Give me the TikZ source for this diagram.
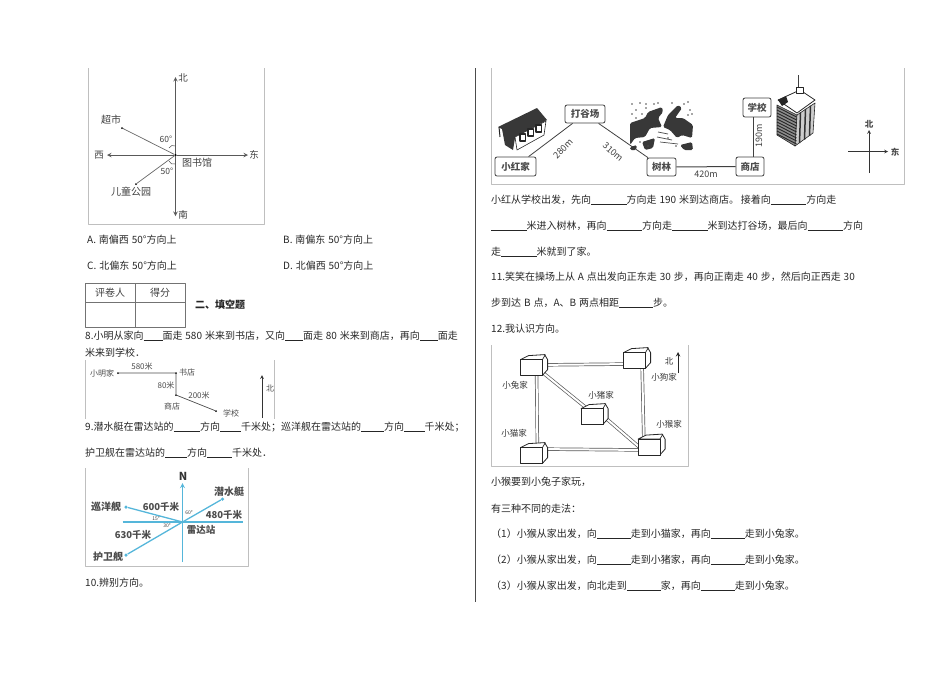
\documentclass[tikz,border=0pt]{standalone}
\usepackage{fontspec}
\setmainfont[WordSpace=1.3]{Noto Sans CJK SC}
\usetikzlibrary{positioning,backgrounds}
\newcommand{\blankline}[1]{\rule[-1.5pt]{#1pt}{0.6pt}}
\newcommand{\fs}[1]{\fontsize{#1}{#1}\selectfont}
\tikzset{
	txt/.style={anchor=base west, inner sep=0pt, text=black!85, font=\fs{10}},
	lab/.style={inner sep=0pt, text=black!75, font=\fs{10}},
	smalllab/.style={inner sep=0pt, text=black!70, font=\fs{8}},
	boldlab/.style={inner sep=0pt, text=black!70, font=\fs{10}\bfseries},
	framed/.style={draw=black!25, line width=0.8pt},
	dot/.style={circle, fill=black, inner sep=0pt, minimum size=2.5pt},
	axisline/.style={->, draw=black!65, line width=1pt},
	placebox/.style={draw=black!75, rounded corners=2pt, line width=0.8pt, fill=white, inner sep=0pt, font=\fs{9.5}\bfseries, text=black!70},
	housebox/.style={draw=black!85, line width=0.8pt, fill=white, inner sep=0pt, minimum width=21pt, minimum height=15pt},
	road/.style={double=white, draw=black!65, double distance=2pt, line width=0.7pt},
	radar/.style={draw=radarblue, line width=1.3pt},
	radardot/.style={circle, fill=radarblue, inner sep=0pt, minimum size=3.5pt},
	blotch/.style={fill=black!78, draw=none, rounded corners=1.5pt},
}
\definecolor{radarblue}{HTML}{55B6DA}
\begin{document}
\begin{tikzpicture}[x=1pt, y=-1pt, line join=round, >=stealth]
	\useasboundingbox (0,0) rectangle (950,673);
	\draw[black!70, line width=1pt] (475,68)--(475,602);
	%Hình 1
	\draw[framed] (88,68)--(88,224)--(264,224)--(264,68);
	\node[dot] (lib) at (175.5,155) {};
	\coordinate (n1) at (175.5,77);
	\coordinate (s1) at (175.5,216);
	\coordinate (w1) at (107,155);
	\coordinate (e1) at (248,155);
	\node[dot, minimum size=2pt] (shop) at (122,128) {};
	\node[dot, minimum size=2pt] (park) at (136,184) {};
	\draw[axisline] (lib)--(n1);
	\draw[axisline] (lib)--(s1);
	\draw[axisline] (lib)--(w1);
	\draw[axisline] (lib)--(e1);
	\draw[black!60, line width=0.7pt] (lib)--(shop) (lib)--(park);
	\draw[black!70, line width=0.5pt] (169,148) to[bend left=50] (175.5,146);
	\draw[black!70, line width=0.5pt] (169,161) to[bend right=50] (175.5,164);
	\node[lab, font=\fs{9.5}] (northa) at (183,78) {北};
	\node[lab, font=\fs{9.5}] (southa) at (183,215) {南};
	\node[lab, font=\fs{9.5}] (westa) at (99,155) {西};
	\node[lab, font=\fs{9.5}] (easta) at (254,155) {东};
	\node[lab] (shoplab) at (111,120) {超市};
	\node[lab] (parklab) at (131,192) {儿童公园};
	\node[lab] (liblab) at (197,163) {图书馆};
	\node[lab, font=\fs{8.5}] (anglea) at (166,139) {60°};
	\node[lab, font=\fs{8.5}] (angleb) at (167,171) {50°};
	%Các lựa chọn
	\node[txt] (optA) at (87,243) {A. 南偏西 50°方向上};
	\node[txt] (optB) at (283,243) {B. 南偏东 50°方向上};
	\node[txt] (optC) at (87,269) {C. 北偏东 50°方向上};
	\node[txt] (optD) at (283,269) {D. 北偏西 50°方向上};
	%Bảng điểm
	\draw[black!55, line width=1pt] (85,283) rectangle (185,327) (135,283)--(135,327) (85,302)--(185,302);
	\node[lab] (grader) at (110,293) {评卷人};
	\node[lab] (score) at (160,293) {得分};
	\node[txt, font=\fs{10}\bfseries] (section) at (195,308) {二、填空题};
	%Câu 8
	\node[txt] (q8a) at (85,339) {8.小明从家向\blankline{19}面走 580 米来到书店，又向\blankline{18}面走 80 米来到商店，再向\blankline{18}面走};
	\node[txt] (q8b) at (85,356) {米来到学校．};
	\draw[framed] (85,360)--(85,419) (274.5,360)--(274.5,419);
	\node[dot, minimum size=2pt] (home) at (118,373) {};
	\node[dot, minimum size=2pt] (book) at (176,373) {};
	\node[dot, minimum size=2pt] (store) at (176,395) {};
	\node[dot, minimum size=2pt] (school) at (216,411) {};
	\draw[black!70, line width=0.7pt] (home)--(book)--(store)--(school);
	\coordinate (northb) at (262,375);
	\coordinate (southb) at (262,418);
	\draw[->, black!80, line width=0.8pt] (southb)--(northb);
	\node[smalllab] (homelab) at (102,373) {小明家};
	\node[smalllab] (booklab) at (187,372) {书店};
	\node[smalllab] (storelab) at (172,406) {商店};
	\node[smalllab] (schoollab) at (231,413) {学校};
	\node[smalllab] (d580) at (142,366) {580米};
	\node[smalllab] (d80) at (166,385) {80米};
	\node[smalllab] (d200) at (199,395) {200米};
	\node[smalllab] (northlab) at (270,388) {北};
	%Câu 9
	\node[txt] (q9a) at (85,430) {9.潜水艇在雷达站的\blankline{26.5}方向\blankline{21}千米处；巡洋舰在雷达站的\blankline{23}方向\blankline{20.5}千米处；};
	\node[txt] (q9b) at (85,456) {护卫舰在雷达站的\blankline{22}方向\blankline{25}千米处．};
	\draw[framed] (85,468)--(85,566)--(248,566)--(248,468);
	\coordinate (radarc) at (182.5,522);
	\coordinate (ntop) at (182.5,483);
	\coordinate (nbot) at (182.5,562);
	\coordinate (wend) at (122.5,522);
	\coordinate (eend) at (243,522);
	\node[radardot] (sub) at (222.5,499) {};
	\node[radardot] (cruiser) at (126,507) {};
	\node[radardot] (frigate) at (126,555) {};
	\draw[radar, ->] (nbot)--(ntop);
	\draw[radar] (wend)--(eend);
	\draw[radar] (radarc)--(sub) (radarc)--(cruiser) (radarc)--(frigate);
	\node[font=\fs{11}\bfseries, inner sep=0pt, text=black!80] (nlab) at (183,476) {N};
	\node[boldlab] (sublab) at (229,492) {潜水艇};
	\node[boldlab] (cruiserlab) at (106,507) {巡洋舰};
	\node[boldlab] (frigatelab) at (108,557) {护卫舰};
	\node[boldlab, font=\fs{9.5}\bfseries] (radarlab) at (201,530) {雷达站};
	\node[boldlab, font=\fs{9.5}\bfseries] (d600) at (161,507) {600千米};
	\node[boldlab, font=\fs{9.5}\bfseries] (d480) at (224,515) {480千米};
	\node[boldlab, font=\fs{9.5}\bfseries] (d630) at (133,535) {630千米};
	\node[lab, font=\fs{5}] (ang60) at (189,513) {60°};
	\node[lab, font=\fs{5}] (ang15) at (156,519) {15°};
	\node[lab, font=\fs{5}] (ang30) at (167,526) {30°};
	\node[txt] (q10) at (85,586) {10.辨别方向。};
	%Hình 4
	\draw[framed] (491,68)--(491,184)--(904,184)--(904,68);
	\node[placebox, minimum width=41pt, minimum height=19pt] (hong) at (515.5,166.5) {小红家};
	\node[placebox, minimum width=40pt, minimum height=18pt] (field) at (585,114) {打谷场};
	\node[placebox, minimum width=29pt, minimum height=18pt] (forest) at (661.5,167) {树林};
	\node[placebox, minimum width=28pt, minimum height=19pt] (mall) at (750,166.5) {商店};
	\node[placebox, minimum width=28pt, minimum height=19pt] (college) at (757,107.5) {学校};
	\draw[black!75, line width=0.8pt] (hong)--(field);
	\draw[black!75, line width=0.8pt] (field)--(forest);
	\draw[black!75, line width=1pt] (forest)--(mall);
	\draw[black!75, line width=0.7pt] ([xshift=3pt]mall.north)--([xshift=-4pt]college.south);
	\node[lab, rotate=45, font=\fs{9}] (d280) at (563,149) {280m};
	\node[lab, rotate=-40, font=\fs{9}] (d310) at (613,152) {310m};
	\node[lab, font=\fs{9}] (d420) at (706,174) {420m};
	\node[lab, rotate=90, font=\fs{9}] (d190) at (759,136) {190m};
	%Nhà
	\fill[black!78] (498,127)--(537,108)--(547,120)--(515,138)--(513,150)--(505,145)--(502,129)--cycle;
	\draw[black!85, fill=white, line width=0.6pt] (515,137)--(546,121)--(544,135)--(517,150)--cycle;
	\draw[black!85, line width=1pt] (499,127)--(500,137);
	\foreach \wx/\wy in {520/134,528/129,536/125}
	\draw[black!85, fill=white, line width=1.1pt] (\wx,\wy) rectangle ++(5.5,7);
	%Rừng
	\fill[blotch] (630,123)--(645,118)--(648,112)--(662,107)--(663,112)--(658,118)--(662,127)--(650,128)--(645,137)--(635,138)--(630,145)--cycle;
	\fill[blotch] (663,127)--(668,115)--(678,105)--(682,108)--(675,118)--(683,118)--(693,125)--(692,138)--(682,135)--(677,138)--(670,130)--cycle;
	\fill[blotch] (642,142)--(655,138)--(653,148)--(645,150)--cycle;
	\fill[blotch] (680,145)--(692,142)--(693,150)--(684,150)--cycle;
	\fill[blotch] (630,147)--(637,145)--(636,150)--(630,150)--cycle;
	\foreach \px/\py in {632/104,636/110,640/103,646/108,632/114,642/114,684/104,690/110,688/102,668/138,676/146,640/142,648/146,646/104,658/103,692/114,636/118,654/104,672/103,688/115}
	\fill[black!70] (\px,\py) circle (0.8);
	\draw[black!70, line width=0.7pt] (657,137)--(672,140) (660,142)--(678,144) (658,132)--(668,134);
	%Tòa nhà
	\draw[black!75, line width=1pt] (798,75)--(798,88);
	\draw[black!85, fill=white, line width=0.8pt] (778,100)--(800,90)--(815,100)--(797,113)--cycle;
	\draw[black!85, fill=black!45, line width=0.6pt] (777,105)--(797,115)--(795,146)--(777,135)--cycle;
	\draw[black!85, fill=black!20, line width=0.6pt] (797,115)--(815,103)--(813,133)--(795,146)--cycle;
	\foreach \sy in {0,3,...,27}
	\draw[black!85, line width=0.9pt] (777,107+\sy)--(796.5,117+\sy);
	\foreach \sx in {4,9,14}
	\draw[black!80, line width=1.5pt] (796.5+\sx,115-\sx*0.67)--(795.5+\sx,146-\sx*0.72);
	\draw[black!85, fill=white, line width=0.8pt] (796,87) rectangle (803,93);
	\fill[black!85] (778,100)--(786,96)--(788,102)--(782,106)--cycle;
	%La bàn
	\coordinate (cw) at (848,151.5);
	\coordinate (ce) at (888,151.5);
	\coordinate (cn) at (869,130);
	\coordinate (cs) at (869,173);
	\draw[->, black!80, line width=0.7pt] (cw)--(ce);
	\draw[->, black!80, line width=0.7pt] (cs)--(cn);
	\node[boldlab, font=\fs{8.5}\bfseries] (cnlab) at (869,124) {北};
	\node[boldlab, font=\fs{8.5}\bfseries] (celab) at (895,152) {东};
	%Câu 10, 11, 12
	\node[txt] (q10a) at (491,203) {小红从学校出发，先向\blankline{35.5}方向走 190 米到达商店。\hspace{1.7pt}接着向\blankline{35.5}方向走};
	\node[txt] (q10b) at (491,229) {\blankline{35.5}米进入树林，再向\blankline{35.5}方向走\blankline{35.5}米到达打谷场，最后向\blankline{35.5}方向};
	\node[txt] (q10c) at (491,255) {走\blankline{35.5}米就到了家。};
	\node[txt] (q11a) at (491,280) {11.笑笑在操场上从 A 点出发向正东走 30 步，再向正南走 40 步，然后向正西走 30};
	\node[txt] (q11b) at (491,306) {步到达 B 点，A、B 两点相距\blankline{34}步。};
	\node[txt] (q12) at (491,332) {12.我认识方向。};
	%Hình 5
	\draw[framed] (491,345)--(491,466)--(688.5,466)--(688.5,345);
	\foreach \hname/\hx/\hy in {rabbit/531.5/367.5,dog/634.5/360.5,pig/592/416.5,cat/531.5/455.5,monkey/649/447}{
		\node[housebox] (\hname) at (\hx,\hy) {};
		\draw[black!85, line width=0.8pt, fill=white] (\hname.north west)--++(8,-4)--++(16,-1)--++(3,5)--++(0,10)--(\hname.south east)--(\hname.north east)--cycle;
		\draw[black!85, line width=0.7pt] (\hname.north east)--++(3,-5);
		\draw[black!85, line width=0.8pt, fill=white] (\hname.north west) rectangle (\hname.south east);
	}
	\begin{pgfonlayer}{background}
		\draw[road] ([yshift=2.5pt]rabbit.center)--([yshift=-3.5pt]dog.center);
		\draw[road] ([xshift=5pt]rabbit.center)--([xshift=6pt]cat.center);
		\draw[road] ([xshift=7.5pt]dog.center)--([xshift=-5pt]monkey.center);
		\draw[road] ([yshift=6.5pt]cat.center)--([yshift=-3pt]monkey.center);
		\draw[road] ([yshift=4pt]rabbit.center)--([yshift=4pt]pig.center);
		\draw[road] ([xshift=6pt,yshift=5pt]pig.center)--([xshift=-4pt,yshift=-5pt]monkey.center);
	\end{pgfonlayer}
	\node[smalllab, font=\fs{8.5}, text=black!80] (rabbitlab) at (515,385) {小兔家};
	\node[smalllab, font=\fs{8.5}, text=black!80] (doglab) at (664,377) {小狗家};
	\node[smalllab, font=\fs{8.5}, text=black!80] (piglab) at (601,395) {小猪家};
	\node[smalllab, font=\fs{8.5}, text=black!80] (monkeylab) at (669,424) {小猴家};
	\node[smalllab, font=\fs{8.5}, text=black!80] (catlab) at (514,433) {小猫家};
	\node[smalllab, font=\fs{8.5}, text=black!80] (northc) at (669,361) {北};
	\coordinate (ntip) at (678,352);
	\coordinate (nfoot) at (678,373);
	\draw[->, black!85, line width=1pt] (nfoot)--(ntip);
	\node[txt] (q12a) at (491,485) {小猴要到小兔子家玩，};
	\node[txt] (q12b) at (491,512) {有三种不同的走法：};
	\node[txt] (q12c) at (491,537) {（1）小猴从家出发，向\blankline{34}走到小猫家，再向\blankline{34}走到小兔家。};
	\node[txt] (q12d) at (491,563) {（2）小猴从家出发，向\blankline{34}走到小猪家，再向\blankline{34}走到小兔家。};
	\node[txt] (q12e) at (491,589) {（3）小猴从家出发，向北走到\blankline{34}家，再向\blankline{34}走到小兔家。};
\end{tikzpicture}
\end{document}
